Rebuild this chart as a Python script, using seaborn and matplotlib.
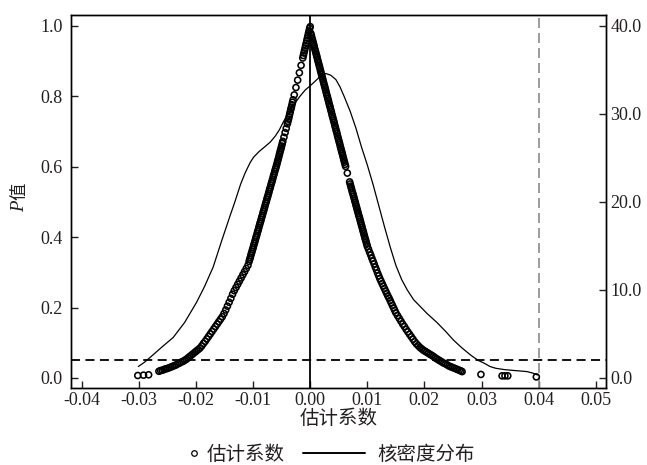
import matplotlib
matplotlib.use("Agg")
import matplotlib.pyplot as plt
import seaborn as sns
import pandas as pd
from matplotlib.ticker import FormatStrFormatter
from matplotlib.lines import Line2D

###############################################################################
# data
###############################################################################
# estimated coefficients and their P values (left branch, b < 0)
left_tail_coef = [-0.0302, -0.0292, -0.0283]
left_tail_p = [0.007, 0.008, 0.009]

left_low_coef = [-0.0265, -0.0262, -0.0259, -0.0256, -0.0253, -0.0250, -0.0247, -0.0244, -0.0241, -0.0238,
                 -0.0235, -0.0232, -0.0229, -0.0226, -0.0223, -0.0220, -0.0217, -0.0214, -0.0211, -0.0208,
                 -0.0205, -0.0202, -0.0199, -0.0196, -0.0193, -0.0190, -0.0187, -0.0184, -0.0181, -0.0178,
                 -0.0175, -0.0172, -0.0169, -0.0166, -0.0163, -0.0160, -0.0157, -0.0154, -0.0151, -0.0148,
                 -0.0145, -0.0142, -0.0139, -0.0136, -0.0133, -0.0130, -0.0127, -0.0124, -0.0121, -0.0118,
                 -0.0115, -0.0112, -0.0109]
left_low_p = [0.019, 0.021, 0.022, 0.024, 0.026, 0.027, 0.029, 0.031, 0.033, 0.035,
              0.037, 0.040, 0.042, 0.045, 0.047, 0.050, 0.053, 0.057, 0.061, 0.065,
              0.069, 0.073, 0.077, 0.081, 0.085, 0.091, 0.098, 0.104, 0.111, 0.118,
              0.125, 0.132, 0.139, 0.146, 0.153, 0.160, 0.167, 0.174, 0.183, 0.193,
              0.204, 0.215, 0.226, 0.238, 0.248, 0.257, 0.266, 0.275, 0.284, 0.293,
              0.302, 0.311, 0.320]

left_high_coef = [-0.0107, -0.0106, -0.0105, -0.0104, -0.0103, -0.0102, -0.0101, -0.0100, -0.0099, -0.0098,
                  -0.0097, -0.0096, -0.0095, -0.0094, -0.0093, -0.0092, -0.0091, -0.0090, -0.0089, -0.0088,
                  -0.0087, -0.0086, -0.0085, -0.0084, -0.0083, -0.0082, -0.0081, -0.0080, -0.0079, -0.0078,
                  -0.0077, -0.0076, -0.0075, -0.0074, -0.0073, -0.0072, -0.0071, -0.0070, -0.0069, -0.0068,
                  -0.0067, -0.0066, -0.0065, -0.0064, -0.0063, -0.0062, -0.0061, -0.0060, -0.0059, -0.0058,
                  -0.0057, -0.0056, -0.0055, -0.0054, -0.0053, -0.0052, -0.0051, -0.0050, -0.0049, -0.0048,
                  -0.0046, -0.0044, -0.0042, -0.0040, -0.0039, -0.0038, -0.0037, -0.0036, -0.0035, -0.0034,
                  -0.0033, -0.0032, -0.0031, -0.0030, -0.0028, -0.0025, -0.0022, -0.0019, -0.0016, -0.0013,
                  -0.0012, -0.0011, -0.0010, -0.0009, -0.0008, -0.0007, -0.0006, -0.0005, -0.0004, -0.0003,
                  -0.0002, -0.0001, 0.0000]
left_high_p = [0.331, 0.337, 0.342, 0.348, 0.354, 0.359, 0.365, 0.370, 0.376, 0.382,
               0.387, 0.393, 0.399, 0.404, 0.410, 0.416, 0.421, 0.427, 0.433, 0.439,
               0.444, 0.450, 0.456, 0.461, 0.467, 0.473, 0.478, 0.484, 0.490, 0.496,
               0.501, 0.507, 0.513, 0.518, 0.524, 0.530, 0.536, 0.541, 0.547, 0.553,
               0.558, 0.564, 0.570, 0.576, 0.581, 0.587, 0.593, 0.598, 0.604, 0.610,
               0.616, 0.622, 0.628, 0.635, 0.641, 0.647, 0.653, 0.659, 0.666, 0.672,
               0.684, 0.697, 0.709, 0.722, 0.729, 0.735, 0.742, 0.749, 0.756, 0.763,
               0.769, 0.776, 0.783, 0.790, 0.804, 0.825, 0.846, 0.867, 0.888, 0.909,
               0.916, 0.923, 0.930, 0.937, 0.944, 0.951, 0.958, 0.965, 0.972, 0.979,
               0.986, 0.993, 0.998]

# right branch, b > 0
right_high_coef = [0.0001, 0.0002, 0.0003, 0.0004, 0.0005, 0.0006, 0.0007, 0.0008, 0.0009, 0.0010,
                   0.0011, 0.0012, 0.0013, 0.0014, 0.0015, 0.0016, 0.0017, 0.0018, 0.0019, 0.0020,
                   0.0021, 0.0022, 0.0023, 0.0024, 0.0025, 0.0026, 0.0027, 0.0028, 0.0029, 0.0030,
                   0.0031, 0.0032, 0.0033, 0.0034, 0.0035, 0.0036, 0.0037, 0.0038, 0.0039, 0.0040,
                   0.0041, 0.0042, 0.0043, 0.0044, 0.0045, 0.0046, 0.0047, 0.0048, 0.0049, 0.0050,
                   0.0051, 0.0052, 0.0053, 0.0054, 0.0055, 0.0056, 0.0057, 0.0058, 0.0059, 0.0060,
                   0.0061, 0.0062, 0.0065, 0.0069, 0.0070, 0.0071, 0.0072, 0.0073, 0.0074, 0.0075,
                   0.0076, 0.0077, 0.0078, 0.0079, 0.0080, 0.0081, 0.0082, 0.0083, 0.0084, 0.0085,
                   0.0086, 0.0087, 0.0088, 0.0089, 0.0090, 0.0091, 0.0092, 0.0093, 0.0094, 0.0095,
                   0.0096, 0.0097, 0.0098, 0.0099, 0.0100]
right_high_p = [0.979, 0.973, 0.966, 0.960, 0.954, 0.948, 0.942, 0.935, 0.929, 0.923,
                0.917, 0.911, 0.904, 0.898, 0.892, 0.886, 0.880, 0.873, 0.867, 0.861,
                0.855, 0.849, 0.842, 0.836, 0.830, 0.824, 0.818, 0.811, 0.805, 0.799,
                0.793, 0.787, 0.780, 0.774, 0.768, 0.762, 0.756, 0.749, 0.743, 0.737,
                0.731, 0.725, 0.718, 0.712, 0.706, 0.700, 0.694, 0.687, 0.681, 0.675,
                0.669, 0.663, 0.656, 0.650, 0.644, 0.638, 0.632, 0.625, 0.619, 0.613,
                0.607, 0.601, 0.582, 0.557, 0.551, 0.545, 0.539, 0.533, 0.527, 0.522,
                0.516, 0.510, 0.504, 0.498, 0.492, 0.486, 0.480, 0.474, 0.468, 0.462,
                0.457, 0.451, 0.445, 0.439, 0.433, 0.427, 0.421, 0.415, 0.409, 0.403,
                0.397, 0.392, 0.386, 0.380, 0.374]

right_low_coef = [0.0102, 0.0104, 0.0106, 0.0108, 0.0110, 0.0112, 0.0114, 0.0116, 0.0118, 0.0120,
                  0.0122, 0.0124, 0.0126, 0.0128, 0.0130, 0.0132, 0.0134, 0.0136, 0.0138, 0.0140,
                  0.0142, 0.0144, 0.0146, 0.0148, 0.0150, 0.0153, 0.0156, 0.0159, 0.0162, 0.0165,
                  0.0168, 0.0171, 0.0174, 0.0177, 0.0180, 0.0183, 0.0186, 0.0189, 0.0192, 0.0195,
                  0.0198, 0.0201, 0.0204, 0.0207, 0.0210, 0.0213, 0.0216, 0.0219, 0.0222, 0.0225,
                  0.0228, 0.0231, 0.0234, 0.0237, 0.0240, 0.0243, 0.0246, 0.0249, 0.0252, 0.0255,
                  0.0258, 0.0261, 0.0264, 0.0266]
right_low_p = [0.366, 0.357, 0.349, 0.340, 0.332, 0.324, 0.315, 0.307, 0.298, 0.290,
               0.282, 0.275, 0.268, 0.261, 0.254, 0.247, 0.240, 0.233, 0.227, 0.220,
               0.213, 0.206, 0.199, 0.192, 0.185, 0.177, 0.169, 0.161, 0.153, 0.146,
               0.138, 0.131, 0.124, 0.117, 0.110, 0.103, 0.097, 0.092, 0.087, 0.083,
               0.079, 0.076, 0.073, 0.070, 0.067, 0.064, 0.061, 0.057, 0.054, 0.051,
               0.048, 0.045, 0.042, 0.040, 0.037, 0.034, 0.032, 0.030, 0.028, 0.026,
               0.024, 0.022, 0.020, 0.018]

right_tail_coef = [0.0299, 0.0336, 0.0341, 0.0346, 0.0396]
right_tail_p = [0.010, 0.006, 0.006, 0.006, 0.003]

# kernel density curve (right axis)
kde_coef = [-0.0301, -0.0290, -0.0281, -0.0260, -0.0240, -0.0220, -0.0199, -0.0185, -0.0170, -0.0155,
            -0.0140, -0.0132, -0.0122, -0.0114, -0.0105, -0.0099, -0.0090, -0.0079, -0.0070, -0.0061,
            -0.0054, -0.0047, -0.0037, -0.0026, -0.0018, -0.0009, 0.0000, 0.0010, 0.0018, 0.0027,
            0.0036, 0.0045, 0.0052, 0.0060, 0.0070, 0.0080, 0.0090, 0.0100, 0.0110, 0.0120,
            0.0130, 0.0140, 0.0150, 0.0160, 0.0170, 0.0181, 0.0193, 0.0205, 0.0222, 0.0237,
            0.0251, 0.0266, 0.0281, 0.0294, 0.0304, 0.0315, 0.0325, 0.0340, 0.0357, 0.0370,
            0.0380, 0.0390, 0.0398]
kde_density = [1.3, 1.8, 2.3, 3.5, 4.6, 6.3, 8.6, 10.4, 12.6, 15.6,
               18.5, 20.0, 22.0, 23.3, 24.5, 25.1, 25.7, 26.3, 26.8, 27.5,
               28.2, 29.1, 30.2, 31.3, 32.0, 32.7, 33.2, 33.8, 34.3, 34.6,
               34.4, 33.9, 33.1, 31.9, 30.3, 28.4, 26.2, 24.2, 22.0, 19.6,
               17.2, 14.9, 12.8, 11.2, 10.0, 8.9, 8.1, 7.3, 6.3, 5.3,
               4.3, 3.4, 2.6, 2.0, 1.7, 1.3, 1.1, 0.95, 0.85, 0.78,
               0.72, 0.55, 0.34]

x_ticks = [-0.04, -0.03, -0.02, -0.01, 0.00, 0.01, 0.02, 0.03, 0.04, 0.05]
p_ticks = [0.0, 0.2, 0.4, 0.6, 0.8, 1.0]
kde_ticks = [0.0, 10.0, 20.0, 30.0, 40.0]

###############################################################################
# build dataframes
###############################################################################
pts = pd.DataFrame({
    "coef": left_tail_coef + left_low_coef + left_high_coef + right_high_coef + right_low_coef + right_tail_coef,
    "p": left_tail_p + left_low_p + left_high_p + right_high_p + right_low_p + right_tail_p,
})
kde = pd.DataFrame({"coef": kde_coef, "density": kde_density})

###############################################################################
# plot
###############################################################################
sns.set_theme(style="ticks")
plt.rcParams["font.family"] = ["Liberation Serif", "Noto Sans CJK SC"]
txt = "#231f20"

fig = plt.figure(figsize=(6.47, 4.65), dpi=100)
ax = fig.add_axes([0.1097, 0.1656, 0.8269, 0.8021])
ax2 = ax.twinx()

sns.scatterplot(data=pts, x="coef", y="p", ax=ax, marker="o", s=19, color="black",
                facecolors="none", edgecolor="black", linewidth=1.15, zorder=3, legend=False)
sns.lineplot(data=kde, x="coef", y="density", ax=ax2, color="black", linewidth=0.9,
             estimator=None, sort=False)

ax.axvline(0, color="black", linewidth=1.3, zorder=4)
ax.axhline(0.05, color="black", linewidth=1.3, linestyle=(0, (5, 3)), zorder=2)
ax.axvline(0.04, color="#8a8a8a", linewidth=1.2, linestyle=(0, (6, 3)), zorder=2)

ax.set_xlim(-0.0419, 0.0518)
ax.set_ylim(-0.0285, 1.031)
ax2.set_ylim(-1.14, 41.24)

ax.set_xticks(x_ticks)
ax.set_yticks(p_ticks)
ax2.set_yticks(kde_ticks)
ax.xaxis.set_major_formatter(FormatStrFormatter("%.2f"))
ax.yaxis.set_major_formatter(FormatStrFormatter("%.1f"))
ax2.yaxis.set_major_formatter(FormatStrFormatter("%.1f"))

ax.tick_params(axis="x", direction="in", length=5, width=1, pad=3, labelsize=13, colors=txt)
ax.tick_params(axis="y", direction="in", length=5, width=1, pad=6, labelsize=13, colors=txt)
ax2.tick_params(axis="y", direction="in", length=5, width=1, pad=3, labelsize=13, colors=txt)
for a in (ax, ax2):
    for s in a.spines.values():
        s.set_linewidth(1.0)
        s.set_color("black")

ax.set_xlabel("估计系数", fontsize=14, color=txt, labelpad=0)
ax.set_ylabel("")
ax2.set_ylabel("")

# y label: italic P + 值
fig.text(0.031, 0.556, "P", rotation=90, style="italic", fontsize=13.5, color=txt,
         ha="center", va="center")
fig.text(0.031, 0.588, "值", rotation=90, fontsize=12.5, color=txt,
         ha="center", va="center")

# legend row at the bottom
h1 = Line2D([], [], marker="o", linestyle="none", markersize=4, markerfacecolor="none",
            markeredgecolor="black", markeredgewidth=0.9)
h2 = Line2D([], [], color="black", linewidth=1.4)
fig.legend(handles=[h1], labels=["估计系数"], loc="center left", bbox_to_anchor=(0.291, 0.0215),
           handlelength=0.6, handletextpad=0.35, frameon=False, fontsize=14, borderpad=0,
           borderaxespad=0, labelcolor=txt)
fig.legend(handles=[h2], labels=["核密度分布"], loc="center left", bbox_to_anchor=(0.468, 0.0215),
           handlelength=3.2, handletextpad=0.65, frameon=False, fontsize=14, borderpad=0,
           borderaxespad=0, labelcolor=txt)

fig.savefig("out.png", dpi=100)
